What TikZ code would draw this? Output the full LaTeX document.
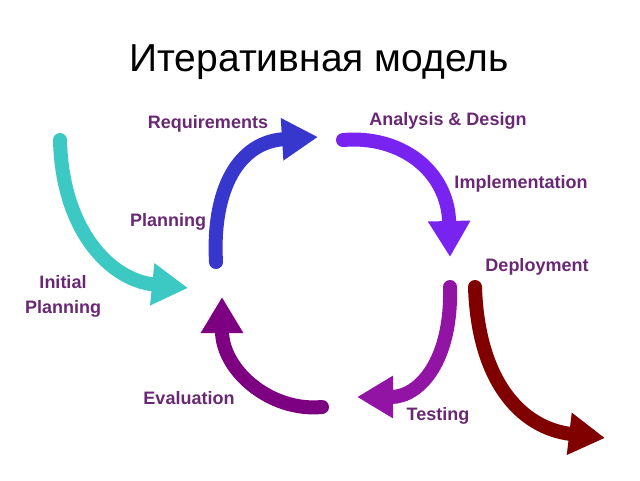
\documentclass[tikz,border=0pt]{standalone}
\usepackage{fontspec}
\setmainfont{Liberation Sans}
\usetikzlibrary{arrows.meta}
\definecolor{lbl}{RGB}{105,40,115}
\definecolor{cyanarr}{RGB}{60,200,195}
\definecolor{bluearr}{RGB}{55,55,205}
\definecolor{violarr}{RGB}{120,35,240}
\definecolor{testarr}{RGB}{145,20,165}
\definecolor{evalarr}{RGB}{125,0,130}
\definecolor{deparr}{RGB}{128,0,0}
\begin{document}
\begin{tikzpicture}[x=1pt,y=-1pt,
  lab/.style={text=lbl,font=\fontsize{18}{20}\selectfont\bfseries,inner sep=0pt,align=center},
  fat/.style={line width=14pt,line cap=round,-{Triangle[width=40pt,length=36pt]}}]
  \useasboundingbox (0,0) rectangle (640,480);
  \node[inner sep=0pt,font=\fontsize{39}{44}\selectfont] (title) at (319,62) {Итеративная модель};
  \draw[fat,cyanarr] (60,140) .. controls (62,230) and (110,280) .. (188,288);
  \draw[fat,bluearr] (216,262) .. controls (212,190) and (238,142) .. (318,137);
  \draw[fat,violarr] (343,140) .. controls (400,135) and (448,170) .. (450,257);
  \draw[fat,testarr] (450,287) .. controls (452,360) and (420,397) .. (357,397);
  \draw[fat,deparr] (475,287) .. controls (478,380) and (520,428) .. (605,438);
  \draw[fat,evalarr] (322,407) .. controls (270,412) and (222,370) .. (222,297);
  \node[lab] (req) at (208,124) {Requirements};
  \node[lab] (ana) at (448,121) {Analysis \& Design};
  \node[lab] (impl) at (521,184) {Implementation};
  \node[lab] (plan) at (168,222) {Planning};
  \node[lab] (dep) at (537,267) {Deployment};
  \node[lab] (init) at (63,296) {Initial\\[5pt]Planning};
  \node[lab] (eval) at (189,398) {Evaluation};
  \node[lab] (test) at (438,416) {Testing};
\end{tikzpicture}
\end{document}
